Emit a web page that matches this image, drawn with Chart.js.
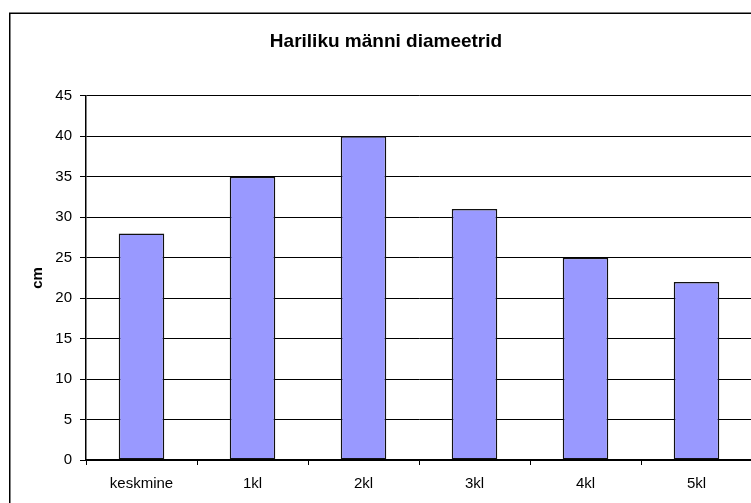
<!DOCTYPE html>
<html>
<head>
<meta charset="utf-8">
<script src="https://cdn.jsdelivr.net/npm/chart.js@4/dist/chart.umd.min.js"></script>
<style>
  html, body { margin: 0; padding: 0; background: #fff; overflow: hidden; }
  #wrap { width: 760px; height: 503px; }
</style>
</head>
<body>
<div id="wrap"><canvas id="diamChart" width="760" height="503"></canvas></div>
<script>
// Andmed (loetud pildilt)
const kategooriad = ['keskmine', '1kl', '2kl', '3kl', '4kl', '5kl'];
const diameetrid  = [28, 35, 40, 31, 25, 22];
const yMin = 0, yMax = 45, ySamm = 5;

const FONT = "'Liberation Sans', Arial, sans-serif";

// Excel-stiilis raam ja valge taust
const raamPlugin = {
    id: 'raam',
    beforeDraw(chart) {
        const ctx = chart.ctx;
        ctx.save();
        ctx.fillStyle = '#fff';
        ctx.fillRect(0, 0, chart.width, chart.height);
        ctx.strokeStyle = '#000';
        ctx.lineWidth = 1.5;
        ctx.strokeRect(9.75, 13.25, 900, 700);
        ctx.restore();
    }
};

const ctx = document.getElementById('diamChart').getContext('2d');
new Chart(ctx, {
    type: 'bar',
    data: {
        labels: kategooriad,
        datasets: [{
            data: diameetrid,
            backgroundColor: '#9999FF',
            borderColor: '#111',
            borderWidth: 1.5,
            borderSkipped: false,
            categoryPercentage: 1,
            barPercentage: 0.41
        }]
    },
    options: {
        responsive: false,
        animation: false,
        devicePixelRatio: 1,
        layout: { padding: { left: 20, right: 8, top: 0, bottom: 0 } },
        plugins: {
            legend: { display: false },
            tooltip: { enabled: false },
            title: {
                display: true,
                text: 'Hariliku männi diameetrid',
                color: '#000',
                font: { family: FONT, size: 19, weight: 'bold' },
                padding: { top: 30, bottom: 43 }
            }
        },
        scales: {
            x: {
                offset: true,
                grid: { offset: true, drawOnChartArea: false, drawTicks: true, tickLength: 5, color: '#000' },
                border: { color: '#000', width: 1.5 },
                ticks: { color: '#000', font: { family: FONT, size: 15 }, padding: 10, maxRotation: 0 },
                afterFit(scale) { scale.height = 43; }
            },
            y: {
                min: yMin,
                max: yMax,
                ticks: { stepSize: ySamm, color: '#000', font: { family: FONT, size: 15 }, padding: 8 },
                grid: { color: '#000', lineWidth: 1, tickLength: 6 },
                border: { color: '#000', width: 1.5 },
                title: {
                    display: true,
                    text: 'cm',
                    color: '#000',
                    font: { family: FONT, size: 15, weight: 'bold' },
                    padding: { top: 9, bottom: 0 }
                },
                afterFit(scale) { scale.width = 66; }
            }
        }
    },
    plugins: [raamPlugin]
});
</script>
</body>
</html>
